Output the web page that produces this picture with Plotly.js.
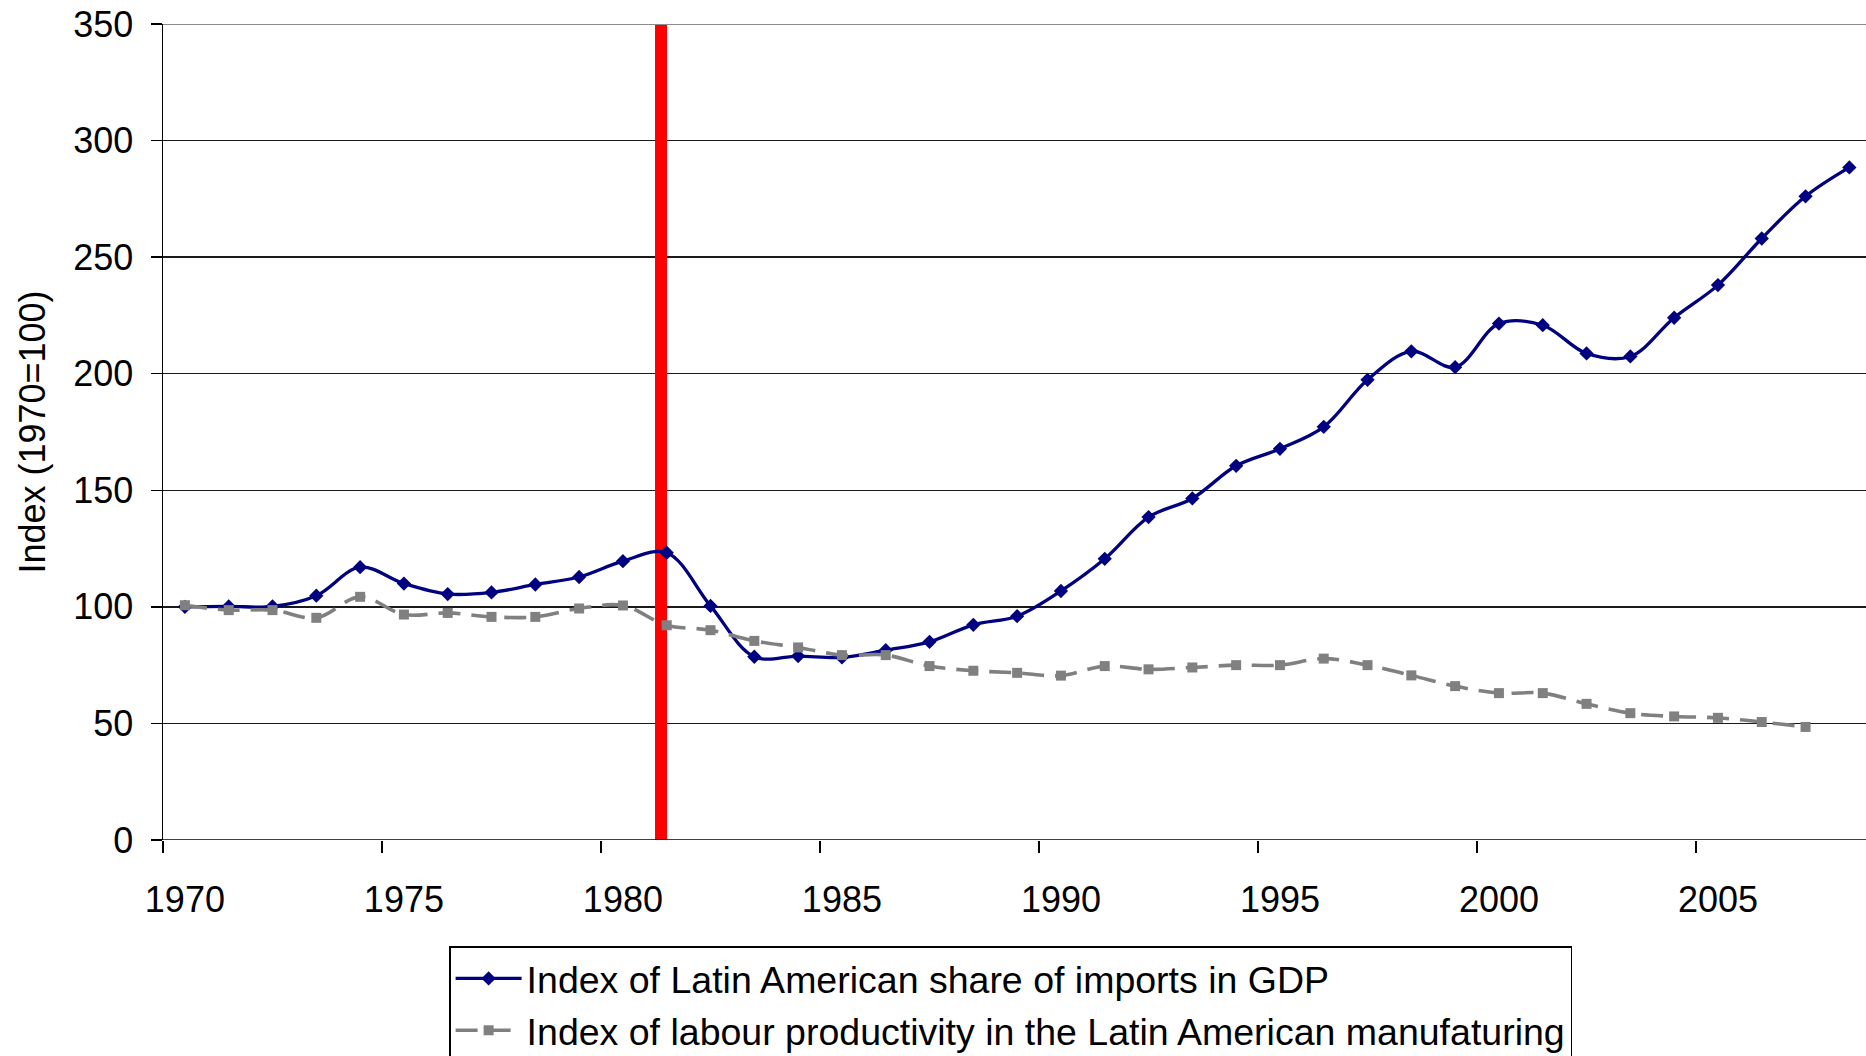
<!DOCTYPE html>
<html>
<head>
<meta charset="utf-8">
<script src="https://cdn.plot.ly/plotly-3.0.1.min.js"></script>
<style>
html,body{margin:0;padding:0;background:#fff;}
#chart{width:1866px;height:1056px;}
</style>
</head>
<body>
<div id="chart"></div>
<script>
const years = [1970,1971,1972,1973,1974,1975,1976,1977,1978,1979,
               1980,1981,1982,1983,1984,1985,1986,1987,1988,1989,
               1990,1991,1992,1993,1994,1995,1996,1997,1998,1999,
               2000,2001,2002,2003,2004,2005,2006,2007,2008];
const importsIndex = [100,100.2,100.2,104.8,117,110,105.5,106.2,109.6,112.8,
                      119.6,123.2,100.4,78.6,78.9,78.3,81.4,85,92.3,96,
                      106.8,120.6,138.5,146.5,160.5,167.8,177.2,197.4,209.6,202.8,
                      221.5,220.8,208.7,207.4,224,238,258,276.1,288.5];
const productivityIndex = [100.7,98.6,98.6,95.3,104.3,96.7,97.4,95.7,95.7,99.3,
                           100.6,92.1,90,85.4,82.6,79.3,79.3,74.6,72.6,71.7,
                           70.5,74.6,73.2,74,75,75,77.8,75,70.6,66,
                           63,63,58.4,54.4,53,52.4,50.6,48.5,null];
const xTickLabels = [1970,1975,1980,1985,1990,1995,2000,2005];
const xTickMarks = [1969.5,1974.5,1979.5,1984.5,1989.5,1994.5,1999.5,2004.5];
const yTicks = [0,50,100,150,200,250,300,350];
const seriesNames = ["Index of Latin American share of imports in GDP",
                     "Index of labour productivity in the Latin American manufaturing"];
const breakYear = 1980.87;

const FONT = "Liberation Sans, Arial, sans-serif";

const traces = [
  {
    x: years, y: importsIndex, name: seriesNames[0],
    type: "scatter", mode: "lines+markers",
    line: {color: "#000080", width: 3.3, shape: "spline", smoothing: 1},
    marker: {symbol: "diamond", size: 11, color: "#000080"}
  },
  {
    x: years, y: productivityIndex, name: seriesNames[1],
    type: "scatter", mode: "lines+markers",
    line: {color: "#808080", width: 3.6, shape: "spline", smoothing: 1, dash: "22px,11px"},
    marker: {symbol: "square", size: 10, color: "#808080"}
  }
];

const layout = {
  width: 1866, height: 1056,
  margin: {l: 163, r: 0, t: 24, b: 216, pad: 0, autoexpand: false},
  paper_bgcolor: "#fff", plot_bgcolor: "#fff",
  font: {family: FONT, size: 36, color: "#000"},
  showlegend: true,
  legend: {
    x: 0.168, y: -0.13, xanchor: "left", yanchor: "top",
    bgcolor: "#fff", bordercolor: "#000", borderwidth: 1.5,
    font: {family: FONT, size: 37.5, color: "#000"},
    itemwidth: 66,
    tracegroupgap: 0
  },
  xaxis: {
    range: [1969.5, 2008.38],
    tickmode: "array", tickvals: xTickLabels, ticktext: xTickLabels.map(String),
    ticks: "", showgrid: false, zeroline: false,
    showline: false, automargin: false,
    tickfont: {family: FONT, size: 36, color: "#000"},
    ticklabelstandoff: 35,
    minor: {tickmode: "array", tickvals: xTickMarks, ticks: "outside", ticklen: 12,
            tickwidth: 1.5, tickcolor: "#000", showgrid: false}
  },
  yaxis: {
    range: [0, 350],
    tickmode: "array", tickvals: yTicks, ticktext: yTicks.map(String),
    ticks: "outside", ticklen: 11, tickwidth: 1.5, tickcolor: "#000",
    showgrid: true, gridcolor: "#1a1a1a", gridwidth: 1.4,
    zeroline: false, showline: true, linecolor: "#000", linewidth: 1.5,
    automargin: false,
    tickfont: {family: FONT, size: 36, color: "#000"},
    ticklabelstandoff: 10,
    title: {text: "Index (1970=100)", font: {family: FONT, size: 36, color: "#000"}, standoff: 16}
  },
  shapes: [
    {type: "line", xref: "paper", yref: "y", x0: 0, x1: 1, y0: 350, y1: 350,
     line: {color: "#8c8c8c", width: 2}, layer: "above"},
    {type: "line", xref: "paper", yref: "y", x0: 0, x1: 1, y0: 0, y1: 0,
     line: {color: "#000", width: 1.5}, layer: "above"},
    {type: "line", xref: "x", yref: "y", x0: breakYear, x1: breakYear, y0: 0, y1: 350,
     line: {color: "#ff0000", width: 12}, layer: "between"}
  ]
};

Plotly.newPlot("chart", traces, layout, {displayModeBar: false, staticPlot: true});
</script>
</body>
</html>
